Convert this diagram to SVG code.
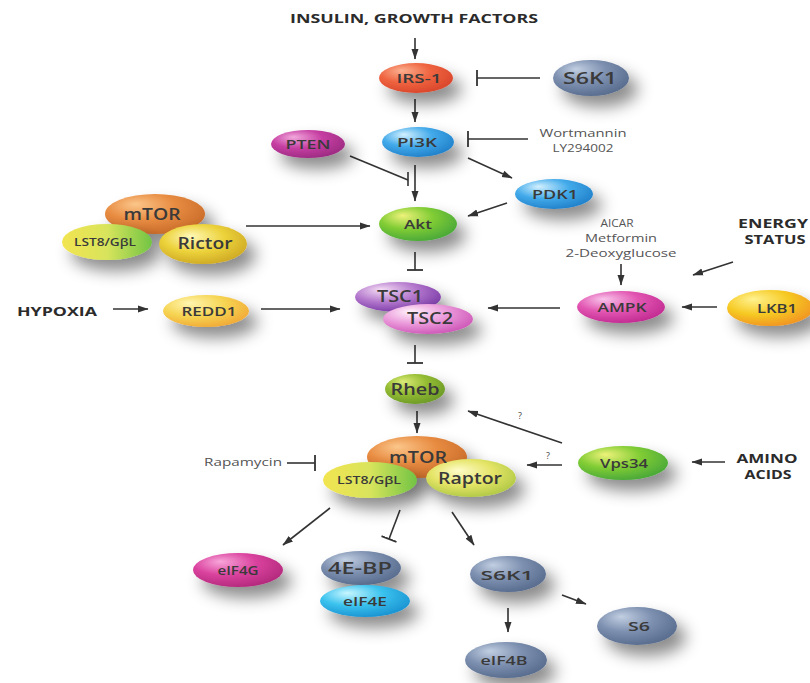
<svg xmlns="http://www.w3.org/2000/svg" width="810" height="683" viewBox="0 0 810 683">
<defs>
<style>
.t{font-family:"Open Sans","Liberation Sans",sans-serif;fill:#3a3a3a;text-anchor:middle;font-size:13px;font-weight:600}
.b{font-size:16px}
.s{font-size:10.5px}
.hd{font-family:"Open Sans","Liberation Sans",sans-serif;font-weight:700;font-size:12.5px;fill:#2b2b2b;text-anchor:middle}
.dr{font-family:"Open Sans","Liberation Sans",sans-serif;font-size:11px;fill:#555;text-anchor:middle}
.q{font-family:"Open Sans","Liberation Sans",sans-serif;font-size:9px;fill:#444;text-anchor:middle}
.c line{stroke:#333;stroke-width:1.6;fill:none}
.a{marker-end:url(#ah)}
.i{marker-end:url(#bar)}
ellipse{filter:url(#sh)}
</style>
<marker id="ah" markerUnits="userSpaceOnUse" markerWidth="11" markerHeight="8" refX="10" refY="4" orient="auto" viewBox="0 0 11 8">
<path d="M0,0.5 L10.5,4 L0,7.5 Z" fill="#333"/>
</marker>
<marker id="bar" markerUnits="userSpaceOnUse" markerWidth="4" markerHeight="18" refX="1" refY="9" orient="auto" viewBox="0 0 4 18">
<line x1="1" y1="1" x2="1" y2="17" stroke="#333" stroke-width="1.8"/>
</marker>
<filter id="sh" x="-40%" y="-60%" width="200%" height="260%">
<feGaussianBlur in="SourceAlpha" stdDeviation="8"/>
<feOffset dx="9" dy="11" result="o"/>
<feFlood flood-color="#000" flood-opacity="0.45"/>
<feComposite in2="o" operator="in"/>
<feMerge><feMergeNode/><feMergeNode in="SourceGraphic"/></feMerge>
</filter>
<radialGradient id="gIRS" cx="0.4" cy="0.35" r="0.7" fx="0.3" fy="0.25"><stop offset="0" stop-color="#fbb090"/><stop offset="0.5" stop-color="#ef6440"/><stop offset="1" stop-color="#d8442a"/></radialGradient>
<radialGradient id="gSl" cx="0.4" cy="0.35" r="0.7" fx="0.3" fy="0.25"><stop offset="0" stop-color="#c2cfe2"/><stop offset="0.5" stop-color="#7d90b0"/><stop offset="1" stop-color="#566a8c"/></radialGradient>
<radialGradient id="gBl" cx="0.4" cy="0.35" r="0.7" fx="0.3" fy="0.25"><stop offset="0" stop-color="#d2f0ff"/><stop offset="0.5" stop-color="#42aaea"/><stop offset="1" stop-color="#1f7ec8"/></radialGradient>
<radialGradient id="gMg" cx="0.4" cy="0.35" r="0.7" fx="0.3" fy="0.25"><stop offset="0" stop-color="#f2a8dc"/><stop offset="0.5" stop-color="#c63ea2"/><stop offset="1" stop-color="#9a2a80"/></radialGradient>
<radialGradient id="gGr" cx="0.4" cy="0.35" r="0.7" fx="0.3" fy="0.25"><stop offset="0" stop-color="#eef27a"/><stop offset="0.5" stop-color="#80cc34"/><stop offset="1" stop-color="#46a63a"/></radialGradient>
<radialGradient id="gOr" cx="0.4" cy="0.35" r="0.7" fx="0.3" fy="0.25"><stop offset="0" stop-color="#fbc68a"/><stop offset="0.5" stop-color="#e88c42"/><stop offset="1" stop-color="#c86a28"/></radialGradient>
<linearGradient id="gL8" x1="0" y1="0" x2="1" y2="0"><stop offset="0" stop-color="#f2e450"/><stop offset="0.5" stop-color="#d8e45c"/><stop offset="1" stop-color="#72c444"/></linearGradient>
<radialGradient id="gRi" cx="0.45" cy="0.4" r="0.7" fx="0.35" fy="0.3"><stop offset="0" stop-color="#fff8b8"/><stop offset="0.5" stop-color="#ecd23a"/><stop offset="1" stop-color="#c8a020"/></radialGradient>
<radialGradient id="gRa" cx="0.45" cy="0.4" r="0.7" fx="0.35" fy="0.3"><stop offset="0" stop-color="#fffcc8"/><stop offset="0.5" stop-color="#e4e466"/><stop offset="1" stop-color="#a4c23e"/></radialGradient>
<radialGradient id="gT1" cx="0.4" cy="0.35" r="0.75" fx="0.3" fy="0.25"><stop offset="0" stop-color="#f4dcf4"/><stop offset="0.5" stop-color="#b276cc"/><stop offset="1" stop-color="#7030a0"/></radialGradient>
<radialGradient id="gT2" cx="0.4" cy="0.35" r="0.75" fx="0.3" fy="0.25"><stop offset="0" stop-color="#fff2fb"/><stop offset="0.5" stop-color="#ea98da"/><stop offset="1" stop-color="#c84ab0"/></radialGradient>
<radialGradient id="gAm" cx="0.4" cy="0.35" r="0.7" fx="0.3" fy="0.25"><stop offset="0" stop-color="#f8c4ea"/><stop offset="0.5" stop-color="#e256b2"/><stop offset="1" stop-color="#c02890"/></radialGradient>
<radialGradient id="gLk" cx="0.4" cy="0.35" r="0.75" fx="0.3" fy="0.25"><stop offset="0" stop-color="#fff290"/><stop offset="0.5" stop-color="#f6ca24"/><stop offset="1" stop-color="#f08a20"/></radialGradient>
<radialGradient id="gRe" cx="0.4" cy="0.35" r="0.75" fx="0.3" fy="0.25"><stop offset="0" stop-color="#fff6b0"/><stop offset="0.5" stop-color="#f6d452"/><stop offset="1" stop-color="#f0a232"/></radialGradient>
<radialGradient id="gRh" cx="0.4" cy="0.35" r="0.7" fx="0.3" fy="0.25"><stop offset="0" stop-color="#dcec78"/><stop offset="0.5" stop-color="#94bc32"/><stop offset="1" stop-color="#6a9828"/></radialGradient>
<radialGradient id="gEG" cx="0.4" cy="0.35" r="0.7" fx="0.3" fy="0.25"><stop offset="0" stop-color="#f8a6da"/><stop offset="0.5" stop-color="#da429e"/><stop offset="1" stop-color="#b0287a"/></radialGradient>
<radialGradient id="gEE" cx="0.4" cy="0.35" r="0.7" fx="0.3" fy="0.25"><stop offset="0" stop-color="#c8f6ff"/><stop offset="0.5" stop-color="#3ac2ee"/><stop offset="1" stop-color="#1890d0"/></radialGradient>
</defs>
<rect width="810" height="683" fill="#fff"/>

<g id="labels">
<text class="hd" x="414" y="23" textLength="248" lengthAdjust="spacingAndGlyphs">INSULIN, GROWTH FACTORS</text>
<text class="hd" x="57" y="316" textLength="80" lengthAdjust="spacingAndGlyphs">HYPOXIA</text>
<text class="hd" x="773" y="228" textLength="70" lengthAdjust="spacingAndGlyphs">ENERGY</text>
<text class="hd" x="775" y="244" textLength="61" lengthAdjust="spacingAndGlyphs">STATUS</text>
<text class="hd" x="767" y="463" textLength="61" lengthAdjust="spacingAndGlyphs">AMINO</text>
<text class="hd" x="768" y="479" textLength="47" lengthAdjust="spacingAndGlyphs">ACIDS</text>
<text class="dr" x="583" y="137" textLength="87" lengthAdjust="spacingAndGlyphs">Wortmannin</text>
<text class="dr" x="583" y="152" textLength="61" lengthAdjust="spacingAndGlyphs">LY294002</text>
<text class="dr" x="617" y="227" textLength="33" lengthAdjust="spacingAndGlyphs">AICAR</text>
<text class="dr" x="621" y="242" textLength="72" lengthAdjust="spacingAndGlyphs">Metformin</text>
<text class="dr" x="621" y="257" textLength="111" lengthAdjust="spacingAndGlyphs">2-Deoxyglucose</text>
<text class="dr" x="243" y="466" textLength="78" lengthAdjust="spacingAndGlyphs">Rapamycin</text>
<text class="q" x="520" y="419">?</text>
<text class="q" x="548" y="459">?</text>
</g>

<g id="connectors" class="c">
<line class="a" x1="415" y1="38" x2="415" y2="59"/>
<line class="i" x1="540" y1="78" x2="477" y2="78"/>
<line class="a" x1="415" y1="99" x2="415" y2="122"/>
<line class="i" x1="528" y1="139" x2="468" y2="139"/>
<line x1="350" y1="156" x2="408" y2="180"/>
<line x1="408" y1="172" x2="408" y2="186"/>
<line class="a" x1="415" y1="165" x2="415" y2="201"/>
<line class="a" x1="468" y1="158" x2="512" y2="178"/>
<line class="a" x1="507" y1="203" x2="468" y2="216"/>
<line class="a" x1="246" y1="226" x2="370" y2="226"/>
<line class="i" x1="415" y1="252" x2="415" y2="270"/>
<line class="a" x1="621" y1="264" x2="621" y2="285"/>
<line class="a" x1="733" y1="262" x2="693" y2="275"/>
<line class="a" x1="717" y1="307" x2="682" y2="307"/>
<line class="a" x1="560" y1="308" x2="488" y2="308"/>
<line class="a" x1="113" y1="309" x2="148" y2="309"/>
<line class="a" x1="261" y1="309" x2="340" y2="309"/>
<line class="i" x1="415" y1="345" x2="415" y2="363"/>
<line class="a" x1="417" y1="411" x2="417" y2="433"/>
<line class="a" x1="562" y1="443" x2="468" y2="411"/>
<line class="a" x1="562" y1="465" x2="527" y2="465"/>
<line class="a" x1="725" y1="462" x2="692" y2="462"/>
<line class="i" x1="287" y1="463" x2="315" y2="463"/>
<line class="a" x1="330" y1="508" x2="283" y2="545"/>
<line class="i" x1="400" y1="510" x2="389" y2="539"/>
<line class="a" x1="452" y1="512" x2="474" y2="545"/>
<line class="a" x1="562" y1="595" x2="586" y2="604"/>
<line class="a" x1="508" y1="608" x2="508" y2="632"/>
</g>

<g id="IRS1"><ellipse cx="416" cy="78" rx="37" ry="15" fill="url(#gIRS)"/><text class="t" x="419" y="83" textLength="45" lengthAdjust="spacingAndGlyphs">IRS-1</text></g>
<g id="S6K1top"><ellipse cx="591" cy="78" rx="38" ry="18" fill="url(#gSl)"/><text class="t b" x="590" y="84" textLength="54" lengthAdjust="spacingAndGlyphs">S6K1</text></g>
<g id="PI3K"><ellipse cx="418" cy="142" rx="36" ry="15" fill="url(#gBl)"/><text class="t" x="417" y="147" textLength="40" lengthAdjust="spacingAndGlyphs">PI3K</text></g>
<g id="PTEN"><ellipse cx="308" cy="144" rx="37" ry="14" fill="url(#gMg)"/><text class="t" x="308" y="149" textLength="45" lengthAdjust="spacingAndGlyphs">PTEN</text></g>
<g id="PDK1"><ellipse cx="554" cy="194" rx="39" ry="15" fill="url(#gBl)"/><text class="t" x="555" y="199" textLength="46" lengthAdjust="spacingAndGlyphs">PDK1</text></g>
<g id="Akt"><ellipse cx="418" cy="224" rx="39" ry="17" fill="url(#gGr)"/><text class="t" x="418" y="229" textLength="28" lengthAdjust="spacingAndGlyphs">Akt</text></g>

<g id="mTORC2">
<ellipse cx="155" cy="214" rx="50" ry="20" fill="url(#gOr)"/>
<ellipse cx="107" cy="242" rx="45" ry="18" fill="url(#gL8)"/>
<ellipse cx="203" cy="244" rx="44" ry="20" fill="url(#gRi)"/>
<text class="t b" x="152" y="220" textLength="57" lengthAdjust="spacingAndGlyphs">mTOR</text>
<text class="t s" x="105" y="246" textLength="62" lengthAdjust="spacingAndGlyphs">LST8/GβL</text>
<text class="t b" x="205" y="249" textLength="55" lengthAdjust="spacingAndGlyphs">Rictor</text>
</g>

<g id="TSC">
<ellipse cx="398" cy="297" rx="43" ry="15" fill="url(#gT1)"/>
<ellipse cx="428" cy="319" rx="45" ry="15" fill="url(#gT2)"/>
<text class="t b" x="400" y="302" textLength="46" lengthAdjust="spacingAndGlyphs">TSC1</text>
<text class="t b" x="430" y="324" textLength="46" lengthAdjust="spacingAndGlyphs">TSC2</text>
</g>

<g id="REDD1"><ellipse cx="206" cy="311" rx="43" ry="16" fill="url(#gRe)"/><text class="t" x="209" y="316" textLength="55" lengthAdjust="spacingAndGlyphs">REDD1</text></g>
<g id="AMPK"><ellipse cx="621" cy="307" rx="44" ry="16" fill="url(#gAm)"/><text class="t" x="622" y="312" textLength="49" lengthAdjust="spacingAndGlyphs">AMPK</text></g>
<g id="LKB1"><ellipse cx="770" cy="308" rx="43" ry="18" fill="url(#gLk)"/><text class="t" x="777" y="313" textLength="40" lengthAdjust="spacingAndGlyphs">LKB1</text></g>
<g id="Rheb"><ellipse cx="415" cy="389" rx="30" ry="15" fill="url(#gRh)"/><text class="t b" x="415" y="395" textLength="49" lengthAdjust="spacingAndGlyphs">Rheb</text></g>

<g id="mTORC1">
<ellipse cx="417" cy="457" rx="50" ry="21" fill="url(#gOr)"/>
<ellipse cx="370" cy="480" rx="47" ry="18" fill="url(#gL8)"/>
<ellipse cx="471" cy="478" rx="45" ry="19" fill="url(#gRa)"/>
<text class="t b" x="418" y="463" textLength="58" lengthAdjust="spacingAndGlyphs">mTOR</text>
<text class="t s" x="369" y="484" textLength="64" lengthAdjust="spacingAndGlyphs">LST8/GβL</text>
<text class="t b" x="470" y="484" textLength="64" lengthAdjust="spacingAndGlyphs">Raptor</text>
</g>

<g id="Vps34"><ellipse cx="623" cy="463" rx="45" ry="17" fill="url(#gGr)"/><text class="t" x="624" y="468" textLength="48" lengthAdjust="spacingAndGlyphs">Vps34</text></g>
<g id="eIF4G"><ellipse cx="238" cy="570" rx="45" ry="17" fill="url(#gEG)"/><text class="t" x="238" y="575" textLength="41" lengthAdjust="spacingAndGlyphs">eIF4G</text></g>
<g id="4EBP-eIF4E">
<ellipse cx="361" cy="568" rx="40" ry="17" fill="url(#gSl)"/>
<ellipse cx="365" cy="601" rx="45" ry="16" fill="url(#gEE)"/>
<text class="t b" x="360" y="574" textLength="64" lengthAdjust="spacingAndGlyphs">4E-BP</text>
<text class="t" x="365" y="606" textLength="44" lengthAdjust="spacingAndGlyphs">eIF4E</text>
</g>
<g id="S6K1"><ellipse cx="508" cy="574" rx="38" ry="18" fill="url(#gSl)"/><text class="t" x="507" y="580" textLength="53" lengthAdjust="spacingAndGlyphs">S6K1</text></g>
<g id="S6"><ellipse cx="637" cy="626" rx="40" ry="19" fill="url(#gSl)"/><text class="t" x="639" y="631" textLength="22" lengthAdjust="spacingAndGlyphs">S6</text></g>
<g id="eIF4B"><ellipse cx="506" cy="660" rx="41" ry="18" fill="url(#gSl)"/><text class="t" x="504" y="665" textLength="47" lengthAdjust="spacingAndGlyphs">eIF4B</text></g>
</svg>
